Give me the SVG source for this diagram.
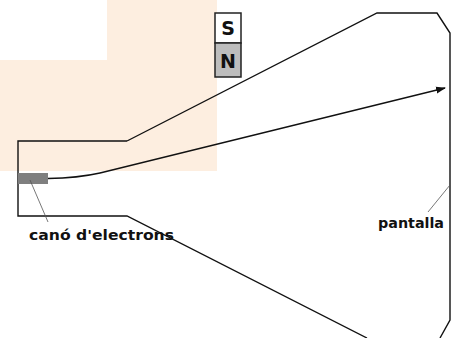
<svg xmlns="http://www.w3.org/2000/svg" width="452" height="338" viewBox="0 0 452 338">
  <style>
    .outline { fill: none; stroke: #111; stroke-width: 1.4; stroke-linejoin: miter; }
    .leader { fill: none; stroke: #555; stroke-width: 0.8; }
    .label { font-family: "DejaVu Sans", sans-serif; font-weight: bold; font-size: 13.5px; fill: #111; }
    .pole { font-family: "DejaVu Sans", sans-serif; font-weight: bold; font-size: 19px; fill: #111; }
  </style>
  <defs>
    <marker id="arrow" markerWidth="10" markerHeight="8" refX="9" refY="4" orient="auto" markerUnits="userSpaceOnUse">
      <path d="M0,0.5 L10,4 L0,7.5 Z" fill="#111"/>
    </marker>
  </defs>

  <rect width="452" height="338" fill="#ffffff"/>
  <!-- shaded backdrop behind the magnet area -->
  <path d="M107,0 H217 V171 H0 V60 H107 Z" fill="#fdeee0"/>

  <g id="tube">
    <path class="outline" d="M127,141 H18 V216 H127 L367,338"/>
    <path class="outline" d="M127,141 L377,13 H437 L450,33 V320 L440,338"/>
  </g>

  <g id="gun">
    <rect x="18" y="173" width="30" height="11" fill="#7f7f7f"/>
  </g>

  <g id="magnet">
    <rect x="215" y="13" width="26" height="30" fill="#ffffff" stroke="#222" stroke-width="1.5"/>
    <rect x="215" y="43" width="26" height="34" fill="#bdbdbd" stroke="#222" stroke-width="1.5"/>
    <text class="pole" x="228" y="35" text-anchor="middle">S</text>
    <text class="pole" x="228" y="68" text-anchor="middle">N</text>
  </g>

  <g id="connectors">
    <path d="M48,178.5 Q78,178 100,173 L445,88" fill="none" stroke="#111" stroke-width="1.3" marker-end="url(#arrow)"/>
    <path class="leader" d="M30,180 L48,222"/>
    <path class="leader" d="M428,212 L450,185"/>
  </g>

  <g id="labels">
    <text class="label" x="29" y="240" textLength="145" lengthAdjust="spacingAndGlyphs">canó d'electrons</text>
    <text class="label" x="378" y="228" textLength="66" lengthAdjust="spacingAndGlyphs">pantalla</text>
  </g>
</svg>
